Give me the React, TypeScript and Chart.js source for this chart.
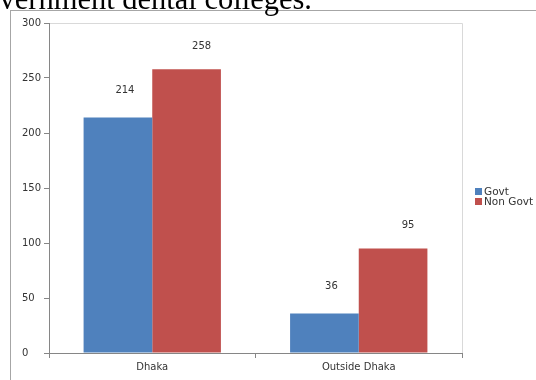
import { useEffect, useRef } from "react";
import { Chart, registerables } from "chart.js";

Chart.register(...registerables);

const categories = ["Dhaka", "Outside Dhaka"];
const seriesLabels = ["Govt", "Non Govt"];
const govtValues = [214, 36];
const nonGovtValues = [258, 95];
const seriesColors = ["#4F81BD", "#C0504D"];
const yMin = 0;
const yMax = 300;
const yStep = 50;
const captionText = "Government dental colleges.";

const FONT = "DejaVu Sans";
const TEXT = "#333333";
const AXIS = "#868686";

const framePlugin = {
  id: "frame",
  beforeDraw(chart: any) {
    const { ctx, chartArea } = chart;
    ctx.save();
    ctx.fillStyle = "#ffffff";
    ctx.fillRect(0, 0, chart.width, chart.height);
    ctx.strokeStyle = "#a6a6a6";
    ctx.lineWidth = 1;
    ctx.strokeRect(10.5, 10.5, chart.width + 20, chart.height + 20);
    ctx.strokeStyle = "#d9d9d9";
    ctx.beginPath();
    ctx.moveTo(chartArea.left, chartArea.top + 0.5);
    ctx.lineTo(chartArea.right + 0.5, chartArea.top + 0.5);
    ctx.lineTo(chartArea.right + 0.5, chartArea.bottom);
    ctx.stroke();
    ctx.restore();
  },
};

const labelOffsets = [
  { dx: 7, dy: 27 },
  { dx: 15, dy: 23 },
];

const dataLabelPlugin = {
  id: "dataLabels",
  afterDatasetsDraw(chart: any) {
    const { ctx } = chart;
    ctx.save();
    ctx.font = `10px "${FONT}"`;
    ctx.fillStyle = TEXT;
    ctx.textAlign = "center";
    ctx.textBaseline = "middle";
    chart.data.datasets.forEach((ds: any, di: number) => {
      const meta = chart.getDatasetMeta(di);
      meta.data.forEach((el: any, i: number) => {
        const off = labelOffsets[di] || { dx: 0, dy: 20 };
        ctx.fillText(String(ds.data[i]), el.x + off.dx, el.y - off.dy);
      });
    });
    ctx.restore();
  },
};

const legendPlugin = {
  id: "customLegend",
  afterDraw(chart: any) {
    const { ctx, chartArea } = chart;
    ctx.save();
    ctx.font = `10.5px "${FONT}"`;
    ctx.textBaseline = "middle";
    ctx.textAlign = "left";
    const x = chartArea.right + 13;
    const y0 = (chartArea.top + chartArea.bottom) / 2 + 4;
    chart.data.datasets.forEach((ds: any, i: number) => {
      const y = y0 + i * 10;
      ctx.fillStyle = ds.backgroundColor;
      ctx.fillRect(x, y - 4, 7, 7);
      ctx.fillStyle = TEXT;
      ctx.fillText(ds.label, x + 9, y);
    });
    ctx.restore();
  },
};

export default function App() {
  const ref = useRef<HTMLCanvasElement | null>(null);

  useEffect(() => {
    if (!ref.current) return;
    const chart = new Chart(ref.current, {
      type: "bar",
      data: {
        labels: categories,
        datasets: [
          {
            label: seriesLabels[0],
            data: govtValues,
            backgroundColor: seriesColors[0],
            categoryPercentage: 0.665,
            barPercentage: 1,
          },
          {
            label: seriesLabels[1],
            data: nonGovtValues,
            backgroundColor: seriesColors[1],
            categoryPercentage: 0.665,
            barPercentage: 1,
          },
        ],
      },
      options: {
        animation: false,
        responsive: false,
        maintainAspectRatio: false,
        events: [],
        layout: { padding: { left: 22, top: 23, right: 74, bottom: 0 } },
        plugins: {
          legend: { display: false },
          tooltip: { enabled: false },
          title: { display: false },
        },
        scales: {
          x: {
            grid: {
              display: true,
              drawOnChartArea: false,
              drawTicks: true,
              tickLength: 5,
              color: AXIS,
              offset: true,
            },
            border: { display: true, color: AXIS },
            ticks: {
              color: TEXT,
              font: { family: FONT, size: 10 },
              padding: 3,
              maxRotation: 0,
            },
            afterFit(scale: any) {
              scale.height = 27;
            },
          },
          y: {
            min: yMin,
            max: yMax,
            grid: {
              display: true,
              drawOnChartArea: false,
              drawTicks: true,
              tickLength: 5,
              color: AXIS,
            },
            border: { display: true, color: AXIS },
            ticks: {
              stepSize: yStep,
              color: TEXT,
              font: { family: FONT, size: 10 },
              crossAlign: "far",
            },
            afterFit(scale: any) {
              scale.width = 27;
            },
          },
        },
      },
      plugins: [framePlugin, dataLabelPlugin, legendPlugin],
    } as any);
    return () => chart.destroy();
  }, []);

  return (
    <div style={{ position: "absolute", left: 0, top: 0, width: 536, height: 380, overflow: "hidden", background: "#fff" }}>
      <canvas ref={ref} width={536} height={380} style={{ position: "absolute", left: 0, top: 0, width: 536, height: 380 }} />
      <div
        style={{
          position: "absolute",
          right: 224,
          top: -16,
          whiteSpace: "nowrap",
          fontFamily: '"Liberation Serif", "Times New Roman", serif',
          fontSize: 30.5,
          lineHeight: "30.5px",
          color: "#000",
        }}
      >
        {captionText}
      </div>
    </div>
  );
}
